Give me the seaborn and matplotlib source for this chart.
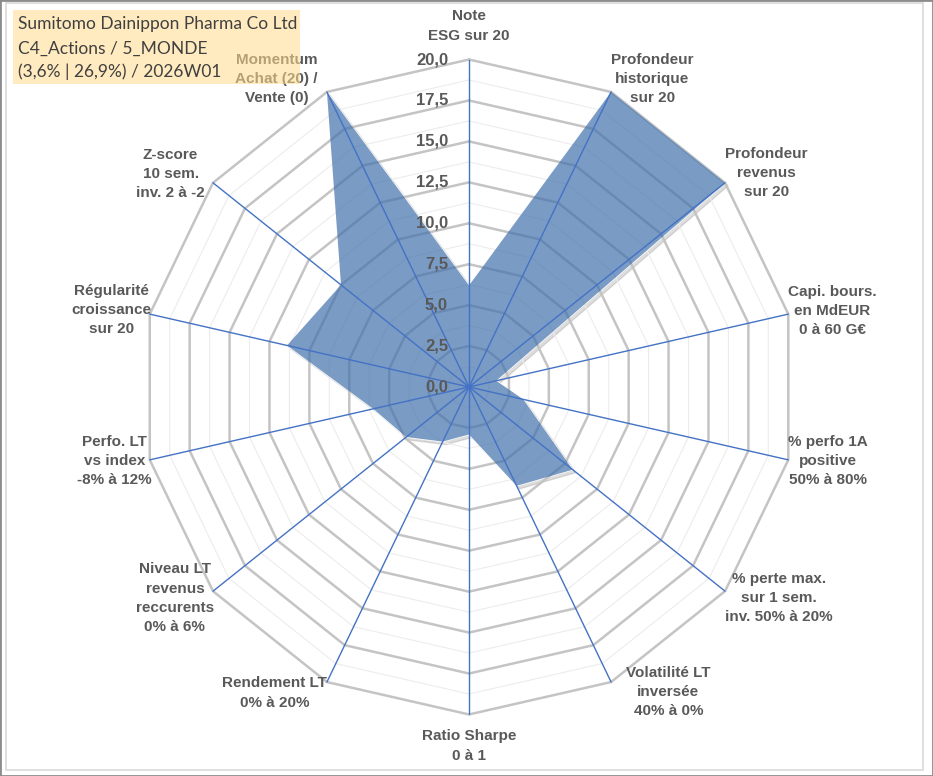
import numpy as np
import matplotlib
matplotlib.use("Agg")
import matplotlib.pyplot as plt
from matplotlib.patches import Rectangle
from matplotlib.transforms import offset_copy
import seaborn as sns

# données du radar
categories = [
    "Note\nESG sur 20",
    "Profondeur\nhistorique\nsur 20",
    "Profondeur\nrevenus\nsur 20",
    "Capi. bours.\nen MdEUR\n0 à 60 G€",
    "% perfo 1A\npositive\n50% à 80%",
    "% perte max.\nsur 1 sem.\ninv. 50% à 20%",
    "Volatilité LT\ninversée\n40% à 0%",
    "Ratio Sharpe\n0 à 1",
    "Rendement LT\n0% à 20%",
    "Niveau LT\nrevenus\nreccurents\n0% à 6%",
    "Perfo. LT\nvs index\n-8% à 12%",
    "Régularité\ncroissance\nsur 20",
    "Z-score\n10 sem.\ninv. 2 à -2",
    "Momentum\nAchat (20) /\nVente (0)",
]
scores = [6.2, 20, 20, 1.7, 3.4, 8.1, 6.7, 2.9, 3.7, 4.9, 6.0, 11.4, 10.0, 20]
ticks = [0, 2.5, 5, 7.5, 10, 12.5, 15, 17.5, 20]
title_lines = ["Sumitomo Dainippon Pharma Co Ltd",
               "C4_Actions / 5_MONDE",
               "(3,6% | 26,9%) / 2026W01"]

sns.set_theme(style="white")
plt.rcParams['font.family'] = ['Liberation Sans', 'DejaVu Sans']

TXT = '#595959'
BLUE = '#4472C4'

n = len(categories)
angles = np.arange(n) * 2 * np.pi / n
ang_c = np.append(angles, angles[0])

fig = plt.figure(figsize=(9.33, 7.76), dpi=100)
ax = fig.add_axes([0.1517, 0.0793, 0.702, 0.844], projection='polar')
ax.set_theta_offset(np.pi / 2)
ax.set_theta_direction(-1)
ax.set_ylim(0, 20)
ax.set_axis_off()

vals = np.append(scores, scores[0])

# ombre + fond blanc sous la zone
shadow = offset_copy(ax.transData, fig=fig, x=3, y=-3, units='dots')
ax.fill(ang_c, vals, color='#7f7f7f', alpha=0.25, transform=shadow, zorder=0.5, clip_on=False)
ax.fill(ang_c, vals, color='white', zorder=0.6, clip_on=False)

# grille polygonale
for r in np.arange(1.25, 20.01, 2.5):
    ax.plot(ang_c, [r] * (n + 1), color='#ececec', lw=0.8, zorder=1, clip_on=False)
for r in ticks[1:]:
    ax.plot(ang_c, [r] * (n + 1), color='#c4c4c4', lw=1.8, zorder=1.1, clip_on=False)

ax.fill(ang_c, vals, color='#4271AC', alpha=0.7, lw=0, zorder=2, clip_on=False)

for a in angles:
    ax.plot([a, a], [0, 20], color=BLUE, lw=1.0, zorder=3, clip_on=False)

# graduations
for t in ticks:
    ax.annotate(f"{t:.1f}".replace('.', ','), xy=(0, t), xytext=(-21, 0),
                textcoords='offset pixels', ha='right', va='center',
                fontsize=12, fontweight='bold', color=TXT, zorder=4)

# libellés des axes
offsets = [(0, 17), (0, 13), (0, 10), (0, 3), (0, -1), (0, -7), (15, -10),
           (0, -15), (0, -11), (1, -7), (2, -1), (2, 4), (-8, 9), (-9, 13)]
for i, (a, lab) in enumerate(zip(angles, categories)):
    s = np.sin(a)
    if i == 0:
        ha, va = 'center', 'bottom'
    elif i == n // 2:
        ha, va = 'center', 'top'
    else:
        ha, va = ('left' if s > 0 else 'right'), 'center'
    ax.annotate(lab, xy=(a, 20), xytext=offsets[i], textcoords='offset pixels',
                ha=ha, va=va, multialignment='center', linespacing=1.48,
                fontsize=11, fontweight='bold', color=TXT, annotation_clip=False)

# cartouche du titre
W, H = 933, 776
fig.add_artist(Rectangle((13 / W, 1 - 84 / H), 287 / W, 74 / H, transform=fig.transFigure,
                         facecolor='#FFDC8C', alpha=0.55, edgecolor='none', zorder=10))
for y, line in zip([24, 49, 72], title_lines):
    fig.text(18 / W, 1 - y / H, line, ha='left', va='center', fontsize=12.5,
             family=['Lato', 'DejaVu Sans'], color='#404040', zorder=11)

# cadres
fig.add_artist(Rectangle((6 / W, 6 / H), 917 / W, 767 / H, transform=fig.transFigure,
                         facecolor='none', edgecolor='#d9d9d9', lw=1.2, zorder=12))
fig.add_artist(Rectangle((0, 0), 1, 1, transform=fig.transFigure,
                         facecolor='none', edgecolor='#8c8c8c', lw=2, zorder=12))

fig.savefig("out.png", dpi=100)
